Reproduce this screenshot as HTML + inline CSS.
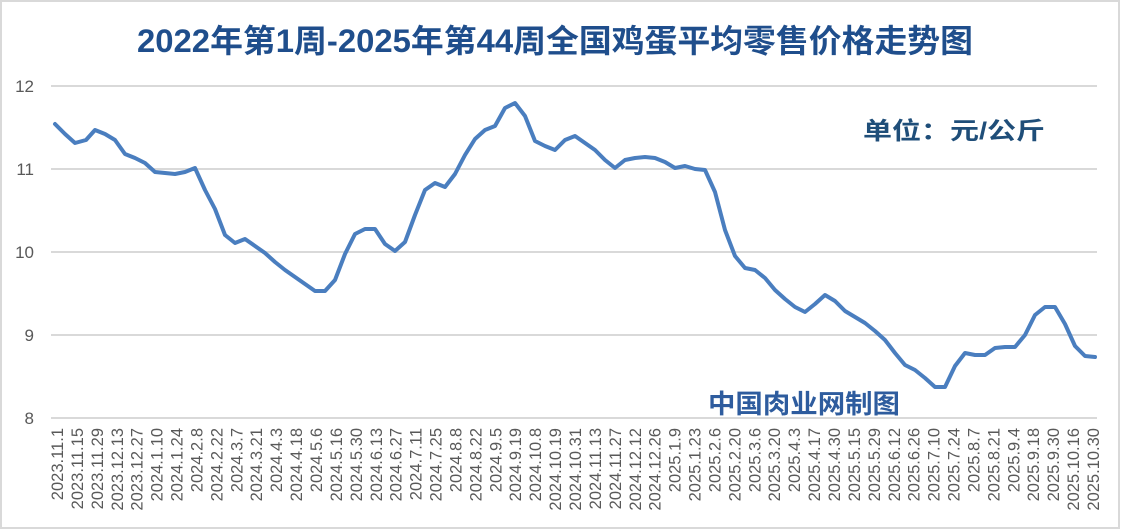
<!DOCTYPE html>
<html><head><meta charset="utf-8"><style>
html,body{margin:0;padding:0;background:#fff;}
svg{display:block;}
</style></head><body>
<svg width="1121" height="530" xmlns="http://www.w3.org/2000/svg" font-family="'Liberation Sans','Noto Sans CJK SC',sans-serif">
<rect x="1" y="1" width="1118" height="527" fill="#fff" stroke="#d9d9d9" stroke-width="2"/>
<text x="137" y="52" font-size="32" fill="#1f4e8c" textLength="836" lengthAdjust="spacingAndGlyphs" font-weight="bold">2022年第1周-2025年第44周全国鸡蛋平均零售价格走势图</text>
<g stroke="#d9d9d9" stroke-width="2">
<line x1="51" y1="86" x2="1097" y2="86"/>
<line x1="51" y1="169" x2="1097" y2="169"/>
<line x1="51" y1="252" x2="1097" y2="252"/>
<line x1="51" y1="335" x2="1097" y2="335"/>
<line x1="51" y1="418" x2="1097" y2="418"/>
</g>
<g font-size="17" fill="#595959" text-anchor="end">
<text x="34" y="92">12</text><text x="34" y="175">11</text><text x="34" y="258">10</text><text x="34" y="341">9</text><text x="34" y="424">8</text>
</g>
<text x="863" y="139" font-size="24" font-weight="bold" fill="#1f4e79" textLength="182" lengthAdjust="spacingAndGlyphs">单位：元/公斤</text>
<text x="708" y="413" font-size="26" font-weight="bold" fill="#2e5c9e" textLength="192" lengthAdjust="spacingAndGlyphs">中国肉业网制图</text>
<polyline fill="none" stroke="#4a7ebf" stroke-width="4" stroke-linejoin="round" stroke-linecap="round" points="55,124 65,134 75,143 86,140 95,130 105,134 115,140 125,154 135,158 145,163 155,172 165,173 175,174 185,172 195,168 205,190 215,209 225,235 235,243 245,239 255,246 265,253 275,262 285,270 295,277 305,284 315,291 325,291 335,280 345,254 355,234 365,229 375,229 385,244 395,251 405,242 415,215 425,190 435,183 445,187 455,174 465,155 475,139 485,130 495,126 505,108 515,103 525,116 535,141 545,146 555,150 565,140 575,136 585,143 595,150 605,160 615,168 625,160 635,158 645,157 655,158 665,162 675,168 685,166 695,169 705,170 715,192 725,230 735,256 745,268 755,270 765,278 775,290 785,299 795,307 805,312 815,304 825,295 835,301 845,311 855,317 865,323 875,331 885,340 895,353 905,365 915,370 925,378 935,387 945,387 955,366 965,353 975,355 985,355 995,348 1005,347 1015,347 1025,335 1035,315 1045,307 1055,307 1065,324 1075,346 1085,356 1095,357"/>
<g font-size="16.5" fill="#595959" text-anchor="end">
<text transform="translate(63,428) rotate(-90)">2023.11.1</text>
<text transform="translate(82.9,428) rotate(-90)">2023.11.15</text>
<text transform="translate(102.8,428) rotate(-90)">2023.11.29</text>
<text transform="translate(122.8,428) rotate(-90)">2023.12.13</text>
<text transform="translate(142.7,428) rotate(-90)">2023.12.27</text>
<text transform="translate(162.6,428) rotate(-90)">2024.1.10</text>
<text transform="translate(182.5,428) rotate(-90)">2024.1.24</text>
<text transform="translate(202.5,428) rotate(-90)">2024.2.8</text>
<text transform="translate(222.4,428) rotate(-90)">2024.2.22</text>
<text transform="translate(242.3,428) rotate(-90)">2024.3.7</text>
<text transform="translate(262.2,428) rotate(-90)">2024.3.21</text>
<text transform="translate(282.2,428) rotate(-90)">2024.4.3</text>
<text transform="translate(302.1,428) rotate(-90)">2024.4.18</text>
<text transform="translate(322,428) rotate(-90)">2024.5.6</text>
<text transform="translate(341.9,428) rotate(-90)">2024.5.16</text>
<text transform="translate(361.8,428) rotate(-90)">2024.5.30</text>
<text transform="translate(381.8,428) rotate(-90)">2024.6.13</text>
<text transform="translate(401.7,428) rotate(-90)">2024.6.27</text>
<text transform="translate(421.6,428) rotate(-90)">2024.7.11</text>
<text transform="translate(441.5,428) rotate(-90)">2024.7.25</text>
<text transform="translate(461.5,428) rotate(-90)">2024.8.8</text>
<text transform="translate(481.4,428) rotate(-90)">2024.8.22</text>
<text transform="translate(501.3,428) rotate(-90)">2024.9.5</text>
<text transform="translate(521.2,428) rotate(-90)">2024.9.19</text>
<text transform="translate(541.2,428) rotate(-90)">2024.10.8</text>
<text transform="translate(561.1,428) rotate(-90)">2024.10.19</text>
<text transform="translate(581,428) rotate(-90)">2024.10.31</text>
<text transform="translate(600.9,428) rotate(-90)">2024.11.13</text>
<text transform="translate(620.8,428) rotate(-90)">2024.11.27</text>
<text transform="translate(640.8,428) rotate(-90)">2024.12.12</text>
<text transform="translate(660.7,428) rotate(-90)">2024.12.26</text>
<text transform="translate(680.6,428) rotate(-90)">2025.1.9</text>
<text transform="translate(700.5,428) rotate(-90)">2025.1.23</text>
<text transform="translate(720.5,428) rotate(-90)">2025.2.6</text>
<text transform="translate(740.4,428) rotate(-90)">2025.2.20</text>
<text transform="translate(760.3,428) rotate(-90)">2025.3.6</text>
<text transform="translate(780.2,428) rotate(-90)">2025.3.20</text>
<text transform="translate(800.2,428) rotate(-90)">2025.4.3</text>
<text transform="translate(820.1,428) rotate(-90)">2025.4.17</text>
<text transform="translate(840,428) rotate(-90)">2025.4.30</text>
<text transform="translate(859.9,428) rotate(-90)">2025.5.15</text>
<text transform="translate(879.8,428) rotate(-90)">2025.5.29</text>
<text transform="translate(899.8,428) rotate(-90)">2025.6.12</text>
<text transform="translate(919.7,428) rotate(-90)">2025.6.26</text>
<text transform="translate(939.6,428) rotate(-90)">2025.7.10</text>
<text transform="translate(959.5,428) rotate(-90)">2025.7.24</text>
<text transform="translate(979.5,428) rotate(-90)">2025.8.7</text>
<text transform="translate(999.4,428) rotate(-90)">2025.8.21</text>
<text transform="translate(1019.3,428) rotate(-90)">2025.9.4</text>
<text transform="translate(1039.2,428) rotate(-90)">2025.9.18</text>
<text transform="translate(1059.2,428) rotate(-90)">2025.9.30</text>
<text transform="translate(1079.1,428) rotate(-90)">2025.10.16</text>
<text transform="translate(1099,428) rotate(-90)">2025.10.30</text>
</g>
</svg>
</body></html>
